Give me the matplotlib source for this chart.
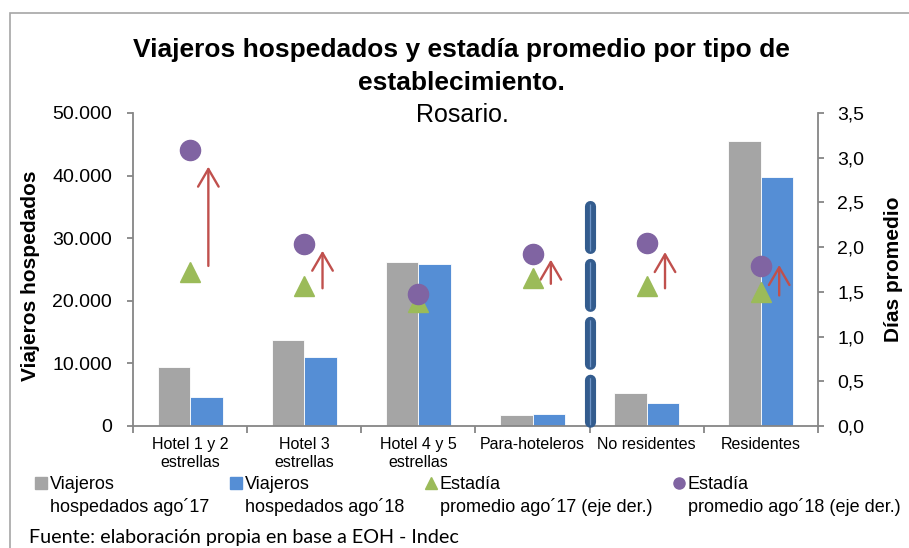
import numpy as np
import matplotlib
matplotlib.use('Agg')
import matplotlib.pyplot as plt
from matplotlib.lines import Line2D
from matplotlib.patches import FancyArrowPatch, Rectangle
from matplotlib.legend_handler import HandlerLine2D

plt.rcParams['font.family'] = ['Liberation Sans', 'DejaVu Sans']
plt.rcParams['lines.scale_dashes'] = False

# ---------------- data ----------------
categories = ["Hotel 1 y 2\nestrellas", "Hotel 3\nestrellas", "Hotel 4 y 5\nestrellas",
              "Para-hoteleros", "No residentes", "Residentes"]
viajeros_ago17 = [9500, 13800, 26200, 1700, 5200, 45600]
viajeros_ago18 = [4700, 11000, 25800, 1900, 3600, 39700]
estadia_ago17 = [1.72, 1.56, 1.39, 1.66, 1.56, 1.50]
estadia_ago18 = [3.09, 2.03, 1.48, 1.92, 2.05, 1.79]
arrow_from = [1.79, 1.54, None, 1.59, 1.54, 1.46]
arrow_to = [2.90, 1.96, None, 1.86, 1.945, 1.80]
left_ticks = [0, 10000, 20000, 30000, 40000, 50000]
left_labels = ["0", "10.000", "20.000", "30.000", "40.000", "50.000"]
right_ticks = [0.0, 0.5, 1.0, 1.5, 2.0, 2.5, 3.0, 3.5]
right_labels = ["0,0", "0,5", "1,0", "1,5", "2,0", "2,5", "3,0", "3,5"]
legend_labels = ["Viajeros\nhospedados ago\u00b417", "Viajeros\nhospedados ago\u00b418",
                 "Estad\u00eda\npromedio ago\u00b417 (eje der.)",
                 "Estad\u00eda\npromedio ago\u00b418 (eje der.)"]

C_GRAY = '#A5A5A5'
C_BLUE = '#558ED5'
C_GREEN = '#9BBB59'
C_PURPLE = '#8064A2'
C_RED = '#C0504D'
C_AXIS = '#868686'

W, H = 909, 548
fig = plt.figure(figsize=(W / 100, H / 100), dpi=100)
fig.patch.set_facecolor('white')

# outer border of the chart area
fig.patches.append(Rectangle((10 / W, -0.1), 2.0, (H - 13) / H + 0.1, transform=fig.transFigure,
                             fill=False, edgecolor='#A6A6A6', lw=1.2))

ax = fig.add_axes([133 / W, (H - 426) / H, (818 - 133) / W, (426 - 113) / H])
x = np.arange(len(categories))
bw = 0.285
ax.bar(x - bw / 2, viajeros_ago17, bw, color=C_GRAY, edgecolor='white', lw=0.6)
ax.bar(x + bw / 2, viajeros_ago18, bw, color=C_BLUE, edgecolor='white', lw=0.6)
ax.set_xlim(-0.5, len(categories) - 0.5)
ax.set_ylim(0, 50000)
ax.set_yticks(left_ticks)
ax.set_yticklabels(left_labels)

ax.set_xticks(np.arange(-0.5, len(categories), 1.0))
ax.set_xticklabels([])
ax.set_xticks(x, minor=True)
ax.set_xticklabels(categories, minor=True, linespacing=1.24, fontsize=11.5)
ax.tick_params(axis='x', which='minor', length=0, pad=8)
ax.tick_params(axis='x', which='major', length=5, width=1.3, color=C_AXIS)
ax.tick_params(axis='y', length=4, width=1.3, color=C_AXIS, labelsize=14, pad=11)

for s in ['top', 'right']:
    ax.spines[s].set_visible(False)
for s in ['left', 'bottom']:
    ax.spines[s].set_color(C_AXIS)
    ax.spines[s].set_linewidth(1.3)

ax.set_ylabel('Viajeros hospedados', fontsize=15, fontweight='bold')
ax.yaxis.set_label_coords((40 - 133) / 685, 0.48)

ax2 = ax.twinx()
ax2.set_ylim(0, 3.5)
ax2.set_yticks(right_ticks)
ax2.set_yticklabels(right_labels)
ax2.tick_params(axis='y', length=4, width=1.3, color=C_AXIS, labelsize=14, pad=10)
for s in ['top', 'left', 'bottom']:
    ax2.spines[s].set_visible(False)
ax2.spines['right'].set_color(C_AXIS)
ax2.spines['right'].set_linewidth(1.3)
ax2.set_ylabel('D\u00edas promedio', fontsize=15, fontweight='bold')
ax2.yaxis.set_label_coords((884 - 133) / 685, 0.5)

# arrows (drawn first, below the markers)
for i in range(len(categories)):
    if arrow_from[i] is None:
        continue
    arr = FancyArrowPatch((x[i] + 0.16, arrow_from[i]), (x[i] + 0.16, arrow_to[i]),
                          arrowstyle='->,head_length=1.27,head_width=0.74', mutation_scale=10,
                          color=C_RED, lw=1.7, shrinkA=0, shrinkB=0,
                          transform=ax2.transData)
    ax2.add_patch(arr)

ax2.plot(x, estadia_ago17, ls='none', marker='^', ms=14.5, color=C_GREEN)
ax2.plot(x, estadia_ago18, ls='none', marker='o', ms=14.5, color=C_PURPLE)

# dashed separator between Para-hoteleros and No residentes
sep, = ax2.plot([3.5, 3.5], [2.46, 0.025], color='#335C8E', lw=8, ls='--',
                dash_capstyle='round', clip_on=False, zorder=4)
sep.set_dashes([30.2, 11.5])
sep2, = ax2.plot([3.5, 3.5], [2.488, 0.0], color='#6F95C8', lw=0.9, ls='--',
                 clip_on=False, zorder=5)
sep2.set_dashes([33.8, 7.9])


class UpHandler(HandlerLine2D):
    def __init__(self, dy, **kw):
        super().__init__(**kw)
        self.dy = dy

    def create_artists(self, legend, orig_handle, xdescent, ydescent, width, height,
                       fontsize, trans):
        arts = super().create_artists(legend, orig_handle, xdescent, ydescent, width,
                                      height, fontsize, trans)
        for a in arts:
            a.set_ydata(np.asarray(a.get_ydata()) + self.dy)
        return arts


handles = [Line2D([], [], ls='none', marker='s', ms=8, color=C_GRAY),
           Line2D([], [], ls='none', marker='s', ms=8, color=C_BLUE),
           Line2D([], [], ls='none', marker='^', ms=8.5, color=C_GREEN),
           Line2D([], [], ls='none', marker='o', ms=8, color=C_PURPLE)]
leg = fig.legend(handles, legend_labels, loc='upper left',
                 bbox_to_anchor=(35 / W, 1 - 476 / H), ncol=4, frameon=False,
                 borderpad=0, borderaxespad=0, handlelength=0.7, handletextpad=0.12,
                 columnspacing=1.15, fontsize=13, numpoints=1,
                 handler_map={Line2D: UpHandler(9.7)})
for t in leg.get_texts():
    t.set_linespacing(1.38)

fig.text(461 / W, 1 - 37.5 / H,
         "Viajeros hospedados y estad\u00eda promedio por tipo de\nestablecimiento.",
         ha='center', va='top', fontsize=19, fontweight='bold', linespacing=1.48)
fig.text(462 / W, 1 - 122 / H, "Rosario.", ha='center', va='baseline', fontsize=18)
fig.text(29 / W, 1 - 543 / H, "Fuente: elaboraci\u00f3n propia en base a EOH - Indec",
         ha='left', va='baseline', fontsize=14.2, family=['Lato', 'DejaVu Sans'])

fig.savefig('out.png', dpi=100, facecolor='white')
